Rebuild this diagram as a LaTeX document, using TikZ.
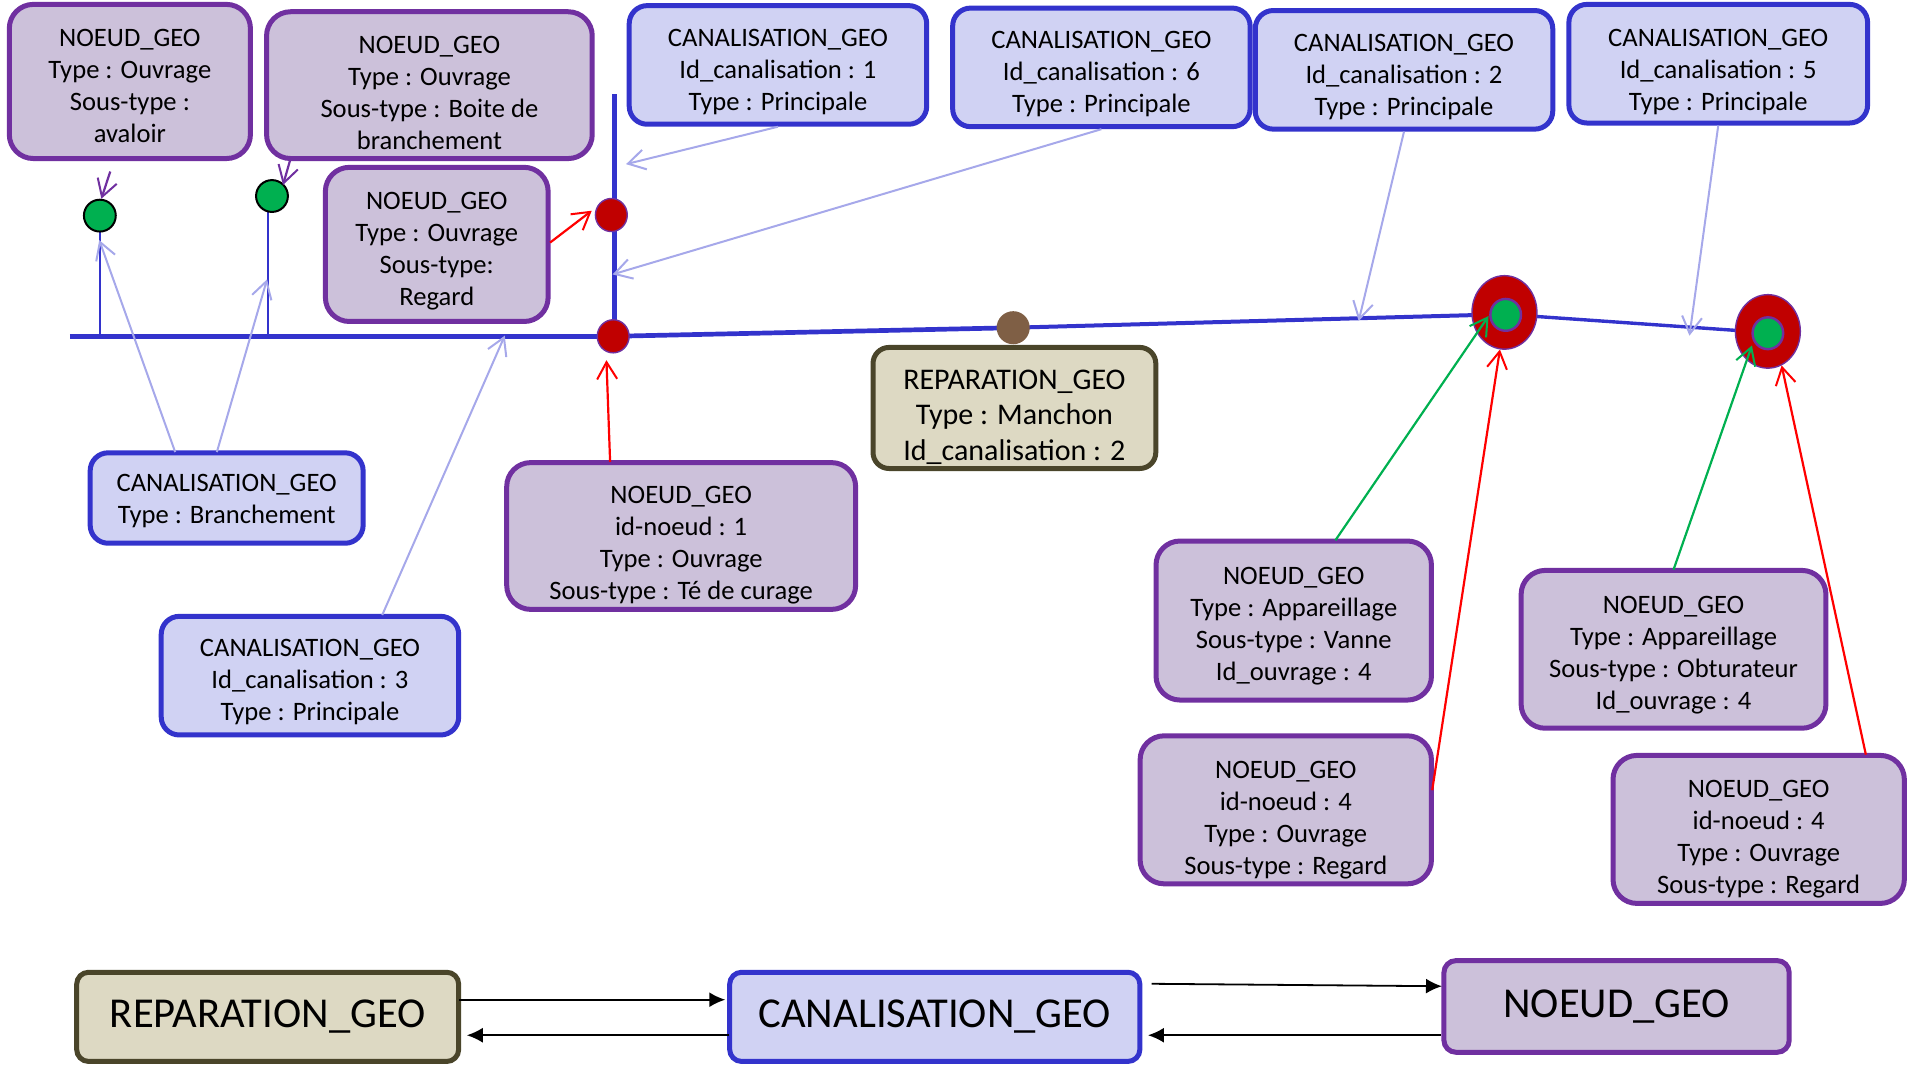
\documentclass[tikz,border=0pt]{standalone}
\usepackage{fontspec}
\setmainfont{Carlito}
\usetikzlibrary{arrows.meta,shapes.geometric}
\definecolor{purp}{HTML}{7030A0}
\definecolor{purpfill}{HTML}{CCC1DA}
\definecolor{blu}{HTML}{3333CC}
\definecolor{blufill}{HTML}{D0D2F3}
\definecolor{oliv}{HTML}{4A452A}
\definecolor{olivfill}{HTML}{DDD9C3}
\definecolor{lightarrow}{HTML}{A6A8EA}
\definecolor{grn}{HTML}{00B050}
\definecolor{dred}{HTML}{C00000}
\definecolor{brn}{HTML}{7F5F45}
\newcommand\dn[1]{\rule{0pt}{\dimexpr 17pt+#1pt*2\relax}}
\tikzset{
  wh/.style n args={2}{minimum width=#1*1.2251pt+1pt,minimum height=#2*1.2251pt+1pt},
  boxbase/.style={rectangle,align=center,line width=5pt,inner sep=0pt,
    font=\fontsize{26.6}{32}\selectfont},
  noeud/.style={boxbase,draw=purp,fill=purpfill,rounded corners=24pt},
  canal/.style={boxbase,draw=blu,fill=blufill,rounded corners=18pt},
  repar/.style={boxbase,draw=oliv,fill=olivfill,rounded corners=16pt},
  bigtext/.style={font=\fontsize{42.6}{50}\selectfont,rounded corners=12pt},
  vee/.style={-{Straight Barb[length=17pt,width=20pt,line width=2pt]}},
  lightlink/.style={vee,draw=lightarrow,line width=2pt},
  redlink/.style={vee,draw=red,line width=2.2pt},
  greenlink/.style={vee,draw=grn,line width=2.2pt},
  purplink/.style={vee,draw=purp,line width=2.2pt},
  blacklink/.style={-{Latex[length=16pt,width=15pt]},draw=black,line width=1.8pt},
  pipe/.style={draw=blu,line width=4.7pt},
  thinpipe/.style={draw=blu,line width=2.2pt},
  gdot/.style={ellipse,draw=black,line width=2pt,fill=grn,inner sep=0pt},
  rdot/.style={ellipse,draw=purp,line width=1.4pt,fill=dred,inner sep=0pt},
  gidot/.style={ellipse,draw=purp,line width=2.4pt,fill=grn,inner sep=0pt},
  bdot/.style={ellipse,fill=brn,inner sep=0pt},
  dotsize/.style n args={2}{minimum width=#1*1.2251pt,minimum height=#2*1.2251pt},
}
\begin{document}
\begin{tikzpicture}[x=1.2251pt,y=-1.2251pt]
\useasboundingbox (0,0) rectangle (1568,868.5);
% pipes
\coordinate (pL) at (57,274.5);
\coordinate (pT) at (501.8,77);
\coordinate (pB) at (501.8,274.5);
\coordinate (bA) at (81.5,274);
\coordinate (bB) at (218.5,274);
\coordinate (bC) at (218.5,165);
\coordinate (mj) at (500.5,274.5);
\coordinate (mm) at (827,267.5);
\coordinate (mr1) at (1228,256.5);
\coordinate (mr2) at (1443,271.5);
\coordinate (mg1) at (81.5,176);
\draw[pipe] (pL) -- (mj);
\draw[pipe] (pT) -- (pB);
\draw[pipe] (mj) -- (mm);
\draw[pipe,line width=4pt] (mm) -- (mr1);
\draw[pipe,line width=3.4pt] (mr1) -- (mr2);
\draw[thinpipe] (bA) -- (mg1);
\draw[thinpipe] (bB) -- (bC);
% dots
\node[bdot,dotsize={27}{27}] (dm) at (mm) {};
\node[rdot,dotsize={26}{27}] (dj) at (mj) {};
\node[rdot,dotsize={26}{27}] (dt) at (499,175.5) {};
\node[gdot,dotsize={26}{26}] (g1) at (mg1) {};
\node[gdot,dotsize={26}{26}] (g2) at (222,160) {};
\node[rdot,dotsize={53}{60}] (r1) at (1228,255) {};
\node[rdot,dotsize={53}{60}] (r2) at (1443,270.5) {};
\node[gidot,dotsize={25}{26}] (gi1) at (1229,257) {};
\node[gidot,dotsize={25}{26}] (gi2) at (1443,272) {};
% boxes
\node[noeud,wh={196}{125}] (n1) at (106,66.5) {\dn{5}NOEUD\_GEO\\Type : Ouvrage\\Sous-type :\\avaloir};
\node[noeud,wh={265}{119}] (n2) at (350.5,69.5) {\dn{8}NOEUD\_GEO\\Type : Ouvrage\\Sous-type : Boite de\\branchement};
\node[noeud,wh={181}{125}] (n3) at (356.5,199.5) {\dn{7}NOEUD\_GEO\\Type : Ouvrage\\Sous-type:\\Regard};
\node[canal,wh={242}{96}] (c1) at (635,53) {\dn{7}CANALISATION\_GEO\\Id\_canalisation : 1\\Type : Principale};
\node[canal,wh={242}{96}] (c6) at (899,55) {\dn{7}CANALISATION\_GEO\\Id\_canalisation : 6\\Type : Principale};
\node[canal,wh={242}{96}] (c2) at (1146,57) {\dn{7}CANALISATION\_GEO\\Id\_canalisation : 2\\Type : Principale};
\node[canal,wh={243}{96}] (c5) at (1402.5,52) {\dn{8}CANALISATION\_GEO\\Id\_canalisation : 5\\Type : Principale};
\node[canal,wh={222}{73}] (cb) at (185,406.5) {\dn{3.5}CANALISATION\_GEO\\Type : Branchement};
\node[canal,wh={242}{96}] (c3) at (253,551.5) {\dn{6}CANALISATION\_GEO\\Id\_canalisation : 3\\Type : Principale};
\node[noeud,wh={284}{119}] (n4) at (556,437.5) {\dn{9.5}NOEUD\_GEO\\id-noeud : 1\\Type : Ouvrage\\Sous-type : Té de curage};
\node[repar,wh={230}{98},font=\fontsize{30}{35.6}\selectfont] (r) at (828,333) {\dn{10.5}REPARATION\_GEO\\Type : Manchon\\Id\_canalisation : 2};
\node[noeud,wh={224}{129}] (n5) at (1056,506.5) {\dn{6}NOEUD\_GEO\\Type : Appareillage\\Sous-type : Vanne\\Id\_ouvrage : 4};
\node[noeud,wh={248}{128}] (n6) at (1366,530) {\dn{6}NOEUD\_GEO\\Type : Appareillage\\Sous-type : Obturateur\\Id\_ouvrage : 4};
\node[noeud,wh={237}{120}] (n7) at (1049.5,661) {\dn{10.5}NOEUD\_GEO\\id-noeud : 4\\Type : Ouvrage\\Sous-type : Regard};
\node[noeud,wh={237}{120}] (n8) at (1435.5,677) {\dn{9.5}NOEUD\_GEO\\id-noeud : 4\\Type : Ouvrage\\Sous-type : Regard};
\node[repar,bigtext,wh={311}{72}] (R) at (218.5,830) {REPARATION\_GEO};
\node[canal,bigtext,wh={334}{72}] (C) at (763,830) {CANALISATION\_GEO};
\node[noeud,bigtext,wh={281}{74}] (N) at (1319.5,821.5) {NOEUD\_GEO};
% connector free ends
\coordinate (e1) at (511,134);
\coordinate (e6) at (500,224);
\coordinate (e2) at (1109,262);
\coordinate (e5) at (1379,274);
\coordinate (eA) at (81,196);
\coordinate (eB) at (218,228);
\coordinate (sA) at (143,369);
\coordinate (sB) at (177,369);
\coordinate (s3) at (312,502);
\coordinate (e3) at (412,274);
\coordinate (s4) at (498,377);
\coordinate (e4) at (495,294);
\coordinate (s5) at (1090,441);
\coordinate (e5g) at (1215,258);
\coordinate (s7) at (1169,645);
\coordinate (s6) at (1366,465);
\coordinate (e6g) at (1430,282);
\coordinate (s8) at (1523,616);
\coordinate (s1) at (90,140);
\coordinate (s2) at (237,130);
\coordinate (e2p) at (231,151);
\coordinate (et) at (483,172);
\coordinate (s3r) at (449,198);
\draw[lightlink] (c1.south) -- (e1);
\draw[lightlink] (c6.south) -- (e6);
\draw[lightlink] (c2.south) -- (e2);
\draw[lightlink] (c5.south) -- (e5);
\draw[lightlink] (sA) -- (eA);
\draw[lightlink] (sB) -- (eB);
\draw[lightlink] (s3) -- (e3);
\draw[redlink] (s4) -- (e4);
\draw[redlink] (s3r) -- (et);
\draw[greenlink] (s5) -- (e5g);
\draw[redlink] (s7) -- (r1.263);
\draw[greenlink] (s6) -- (e6g);
\draw[redlink] (s8) -- (r2.292);
\draw[purplink] (s1) -- (g1.85);
\draw[purplink] (s2) -- (e2p);
\coordinate (ra) at (375,816);
\coordinate (ca) at (592,816);
\coordinate (cb2) at (595,845);
\coordinate (rb) at (381,845);
\coordinate (cc) at (940,803);
\coordinate (na) at (1177,805);
\coordinate (nb) at (1176,845);
\coordinate (cd) at (937,845);
\draw[blacklink] (ra) -- (ca);
\draw[blacklink] (cb2) -- (rb);
\draw[blacklink] (cc) -- (na);
\draw[blacklink] (nb) -- (cd);
\end{tikzpicture}
\end{document}
